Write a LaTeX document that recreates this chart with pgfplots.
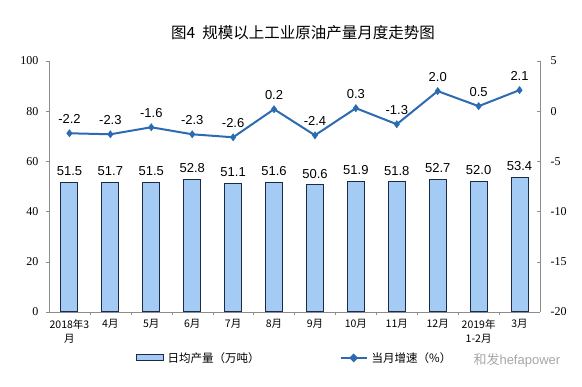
\documentclass[border=0pt]{standalone}
\usepackage{pgfplots}
\pgfplotsset{compat=1.18}
\usepackage{fontspec}
\setmainfont{Liberation Sans}
\newfontfamily\cjk{Noto Sans CJK SC}
\newfontfamily\serif{Liberation Serif}
\definecolor{barfill}{HTML}{A3CBF3}
\definecolor{bardraw}{HTML}{1C2A48}
\definecolor{linec}{HTML}{2C6AB2}
\definecolor{axisc}{HTML}{8C8C8C}
\begin{document}
\begin{tikzpicture}[x=1pt,y=1pt]
\useasboundingbox (0,0) rectangle (582,387);
\node[font=\cjk\fontsize{15.5}{18}\selectfont] at (303,354) {图4\ \ 规模以上工业原油产量月度走势图};
\begin{axis}[
  at={(49pt,75pt)}, anchor=south west, scale only axis,
  width=491pt, height=251pt,
  xmin=-0.5, xmax=11.5, ymin=0, ymax=100,
  axis y line*=left, axis x line*=bottom,
  axis line style={draw=axisc, line width=0.8pt},
  xtick={0,...,11},
  xticklabels={{2018年3\\月},4月,5月,6月,7月,8月,9月,10月,11月,12月,{2019年\\1-2月},3月},
  x tick label style={font=\cjk\fontsize{10.5}{14}\selectfont, align=center, anchor=north, yshift=-1pt},
  major x tick style={draw=none},
  minor xtick={0.5,1.5,...,10.5},
  minor tick length=3pt,
  minor x tick style={draw=axisc},
  ytick={0,20,...,100},
  y tick label style={font=\serif\fontsize{12}{12}\selectfont, xshift=-4pt},
  ytick style={draw=axisc},
  tick align=outside, major tick length=3pt,
  /pgf/number format/assume math mode=true,
  /pgf/number format/.cd, fixed, fixed zerofill, precision=1, /pgfplots/.cd,
  yticklabel={\pgfmathprintnumber[fixed, precision=0]{\tick}},
  clip=false,
  legend style={at={(0.5,-0.183)}, anchor=center, draw=none, fill=none,
     font=\cjk\fontsize{11.5}{13}\selectfont, legend columns=2,
     /tikz/every odd column/.append style={column sep=2pt},
     /tikz/every even column/.append style={column sep=78pt}},
  legend cell align=left,
]
\addplot[ybar, bar width=17pt, fill=barfill, draw=bardraw, line width=1pt,
  nodes near coords,
  every node near coord/.append style={font=\fontsize{13}{14}\selectfont, text=black, anchor=south, yshift=3pt},
  legend image code/.code={\draw[fill=barfill, draw=bardraw, line width=1pt] (0pt,-3pt) rectangle (27pt,3pt);}]
coordinates {(0,51.5) (1,51.7) (2,51.5) (3,52.8) (4,51.1) (5,51.6) (6,50.6) (7,51.9) (8,51.8) (9,52.7) (10,52.0) (11,53.4)};
\addlegendentry{日均产量（万吨）}
\addlegendimage{draw=linec, line width=2pt, legend image code/.code={\draw[linec, line width=2pt] (0pt,0pt) -- (26pt,0pt); \fill[linec] (13pt,3pt) -- (16pt,0pt) -- (13pt,-3pt) -- (10pt,0pt) -- cycle;}}
\addlegendentry{当月增速（\%）}
\end{axis}
\begin{axis}[
  at={(49pt,75pt)}, anchor=south west, scale only axis,
  width=491pt, height=251pt,
  xmin=-0.5, xmax=11.5, ymin=-20, ymax=5,
  axis y line*=right, axis x line=none,
  axis line style={draw=axisc, line width=0.8pt},
  ytick={-20,-15,...,5},
  y tick label style={font=\serif\fontsize{12}{12}\selectfont, anchor=west, xshift=7pt},
  ytick style={draw=axisc},
  tick align=inside, major tick length=3pt,
  /pgf/number format/assume math mode=true,
  /pgf/number format/.cd, fixed, fixed zerofill, precision=1, /pgfplots/.cd,
  yticklabel={\pgfmathprintnumber[fixed, precision=0]{\tick}},
  clip=false,
]
\addplot[draw=linec, line width=2pt, mark=diamond*, mark size=3.6pt, mark options={fill=linec, draw=linec, line width=0.5pt},
  nodes near coords,
  every node near coord/.append style={font=\fontsize{13}{14}\selectfont, text=black, anchor=south, yshift=6pt}]
coordinates {(0,-2.2) (1,-2.3) (2,-1.6) (3,-2.3) (4,-2.6) (5,0.2) (6,-2.4) (7,0.3) (8,-1.3) (9,2.0) (10,0.5) (11,2.1)};
\end{axis}
\node[anchor=west, text=gray!70, font=\cjk\fontsize{13}{14}\selectfont] at (470,27) {和发\fontspec{Liberation Sans}hefapower};
\end{tikzpicture}
\end{document}
